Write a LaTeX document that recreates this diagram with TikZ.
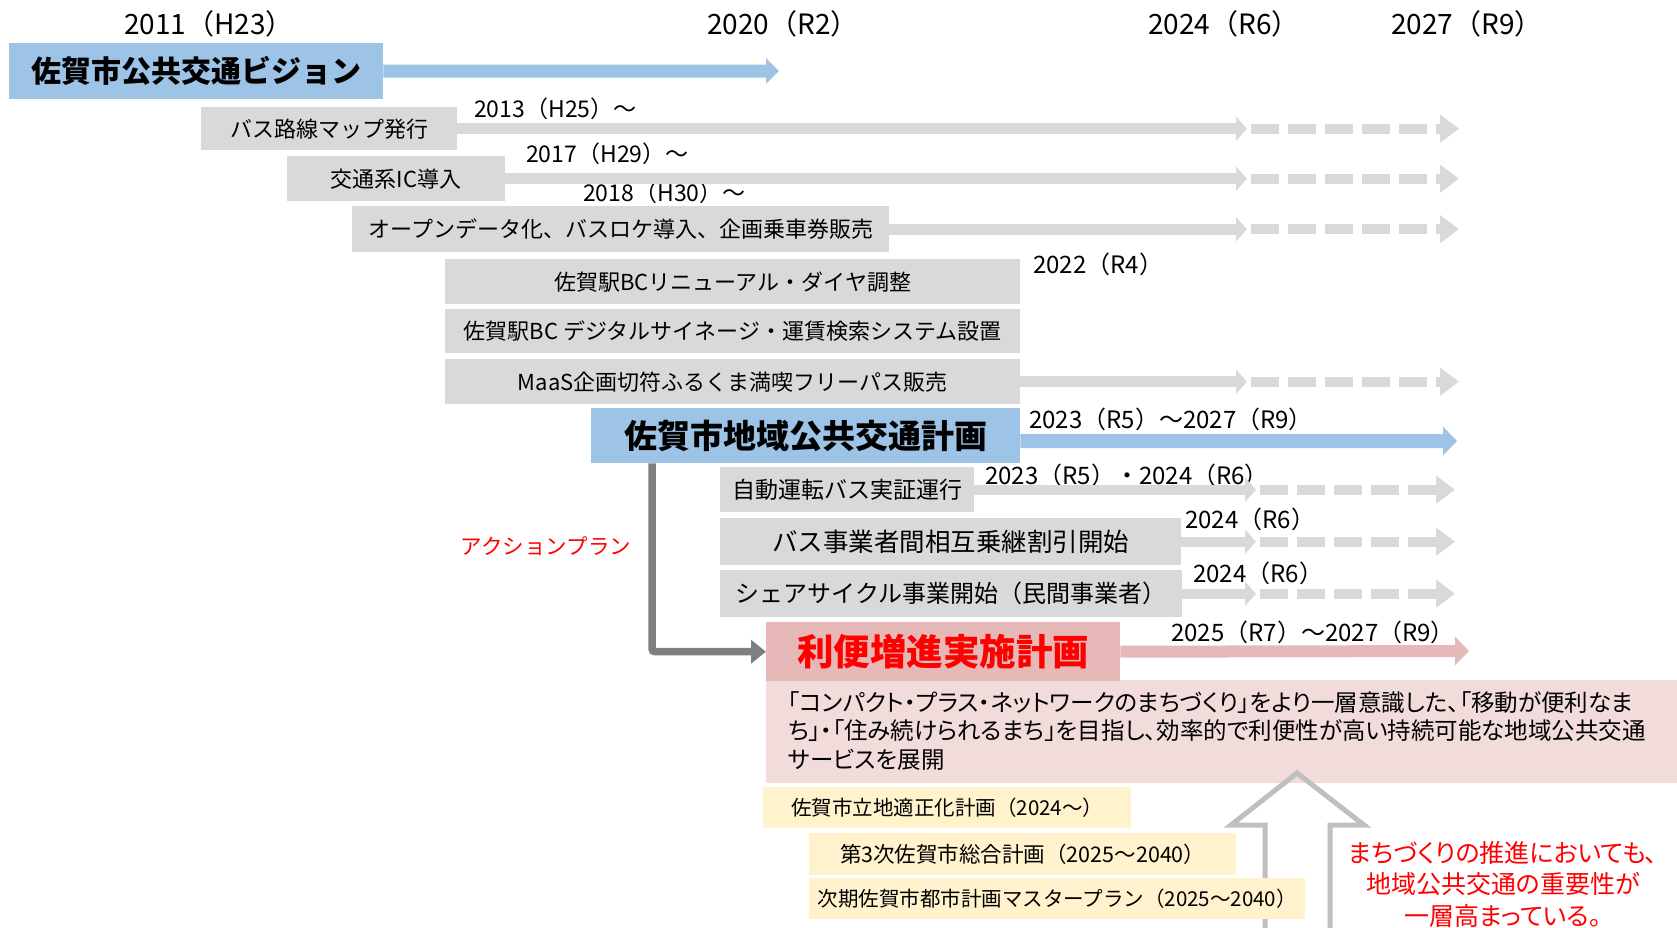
\documentclass[tikz,border=0pt]{standalone}
\usepackage{fontspec}
\setmainfont{Noto Sans CJK JP}
\newfontfamily\jpp[RawFeature=+palt]{Noto Sans CJK JP}
\usetikzlibrary{arrows.meta}
\definecolor{cblue}{HTML}{9DC3E6}
\definecolor{cgray}{HTML}{D9D9D9}
\definecolor{cpink}{HTML}{E6B9B8}
\definecolor{clpink}{HTML}{F2DCDB}
\definecolor{cyel}{HTML}{FFF2CC}
\definecolor{cdark}{HTML}{7F7F7F}
\definecolor{coutl}{HTML}{BFBFBF}
\definecolor{cred}{HTML}{FF0000}
\newcommand\jfs[2]{\fontsize{#1pt}{#2pt}\selectfont}
\begin{document}
\begin{tikzpicture}[x=1pt,y=-1pt,
  box/.style={inner sep=0pt, anchor=north west, align=center},
  gbox/.style={box, fill=cgray, font={\jfs{22}{26}}},
  ybox/.style={box, fill=cyel, font={\jfs{20.5}{24}}},
  yr/.style={inner sep=0pt, font={\jfs{28}{30}}},
  lbl/.style={inner sep=0pt, anchor=west, font={\jfs{24}{28}}},
  garrow/.style={cgray, line width=11pt, -{Triangle[length=11pt,width=24pt]}},
  gdash/.style={cgray, line width=10pt, dash pattern=on 28pt off 9pt, -{Triangle[length=19pt,width=27pt]}},
  barrow/.style={cblue, line width=13pt, -{Triangle[length=13pt,width=25pt]}},
  parrow/.style={cpink, line width=12pt, -{Triangle[length=14pt,width=28pt]}}
]
\useasboundingbox (0,0) rectangle (1677,927);

% header years
\node[yr] (h2011) at (209,24) {2011（H23）};
\node[yr] (h2020) at (783,24) {2020（R2）};
\node[yr] (h2024) at (1224,24) {2024（R6）};
\node[yr] (h2027) at (1467,24) {2027（R9）};

% vision
\node[box, fill=cblue, minimum width=374pt, minimum height=56pt, font={\jfs{30}{36}\bfseries}] (vis) at (9,43) {佐賀市公共交通ビジョン};
\coordinate (vt) at (779,71);
\draw[barrow] (vis.east) -- (vt);

% column coordinates for arrow tips
\coordinate (xa) at (1247,0);
\coordinate (xb) at (1459,0);
\coordinate (xc) at (1256,0);
\coordinate (xd) at (1455,0);

% gray boxes
\node[gbox, minimum width=256pt, minimum height=43pt] (b1) at (201,107) {バス路線マップ発行};
\node[gbox, minimum width=218pt, minimum height=45pt] (b2) at (287,156) {交通系IC導入};
\node[gbox, minimum width=537pt, minimum height=46pt] (b3) at (352,206) {オープンデータ化、バスロケ導入、企画乗車券販売};
\node[gbox, minimum width=575pt, minimum height=45pt] (b4) at (445,259) {佐賀駅BCリニューアル・ダイヤ調整};
\node[gbox, minimum width=575pt, minimum height=44pt] (b5) at (445,309) {佐賀駅BC デジタルサイネージ・運賃検索システム設置};
\node[gbox, minimum width=575pt, minimum height=45pt] (b6) at (445,359) {MaaS企画切符ふるくま満喫フリーパス販売};

\node[lbl, font={\jfs{23}{27}}] (l2013) at (474,109) {2013（H25）～};
\node[lbl, font={\jfs{23}{27}}] (l2017) at (526,154) {2017（H29）～};
\node[lbl, font={\jfs{23}{27}}] (l2018) at (583,193) {2018（H30）～};
\node[lbl] (l2022) at (1033,264) {2022（R4）};

\foreach \b in {b1,b2,b3,b6}{
  \draw[garrow] (\b.east) -- (\b.east -| xa);
  \draw[gdash] ([xshift=4pt]\b.east -| xa) -- (\b.east -| xb);
}

% plan
\node[box, fill=cblue, minimum width=429pt, minimum height=55pt, font={\jfs{33}{40}\bfseries}] (plan) at (591,408) {佐賀市地域公共交通計画};
\coordinate (pt) at (1457,441);
\draw[barrow, line width=14pt, -{Triangle[length=14pt,width=28pt]}] ([yshift=-5.5pt]plan.east) -- (pt);
\node[lbl] (l2023a) at (1029,419) {2023（R5）～2027（R9）};

% action plan boxes
\node[gbox, minimum width=254pt, minimum height=45pt, font={\jfs{23}{26}}] (b7) at (720,467) {自動運転バス実証運行};
\node[gbox, minimum width=461pt, minimum height=47pt, font={\jfs{25.5}{30}}] (b8) at (720,518) {バス事業者間相互乗継割引開始};
\node[gbox, minimum width=462pt, minimum height=47pt, font={\jfs{24}{28}}] (b9) at (720,570) {シェアサイクル事業開始（民間事業者）};

\node[lbl] (l2023b) at (985,475) {2023（R5）・2024（R6）};
\node[lbl] (l2024a) at (1185,519) {2024（R6）};
\node[lbl] (l2024b) at (1193,573) {2024（R6）};

\foreach \b in {b7,b8,b9}{
  \draw[garrow, line width=10pt] (\b.east) -- (\b.east -| xc);
  \draw[gdash] ([xshift=4pt]\b.east -| xc) -- (\b.east -| xd);
}

% benefit plan
\node[box, fill=clpink, minimum width=911pt, minimum height=103pt] (desc) at (766,680) {};
\node[inner sep=0pt, anchor=west, align=left, font={\jpp\jfs{23.5}{28.5}}] (desct) at (788,731) {「コンパクト・プラス・ネットワークのまちづくり」をより一層意識した、「移動が便利なま\\ち」・「住み続けられるまち」を目指し、効率的で利便性が高い持続可能な地域公共交通\\サービスを展開};
\node[box, fill=cpink, minimum width=354pt, minimum height=59pt, text=cred, font={\jfs{36.5}{42}\bfseries}] (rb) at (766,622) {利便増進実施計画};
\coordinate (rt) at (1469,651);
\draw[parrow] (rb.east) -- (rt);
\node[lbl] (l2025) at (1171,632) {2025（R7）～2027（R9）};

% elbow connector
\coordinate (ex) at (652,0);
\draw[cdark, line width=7.5pt, rounded corners=3pt, -{Triangle[length=15pt,width=23pt]}] (plan.south -| ex) |- (rb.west);
\node[inner sep=0pt, text=cred, font={\jfs{21.5}{26}}] (ap) at (546,546) {アクションプラン};

% hollow up arrow
\draw[coutl, line width=5pt, line join=miter] (1297,773) -- (1364,825) -- (1330,825) -- (1330,940) -- (1265,940) -- (1265,825) -- (1231,825) -- cycle;

% yellow boxes
\node[ybox, minimum width=368pt, minimum height=41pt] (y1) at (763,787) {佐賀市立地適正化計画（2024～）};
\node[ybox, minimum width=427pt, minimum height=42pt, font={\jfs{21.5}{24}}] (y2) at (809,833) {第3次佐賀市総合計画（2025～2040）};
\node[ybox, minimum width=496pt, minimum height=41pt] (y3) at (809,878) {次期佐賀市都市計画マスタープラン（2025～2040）};

% note
\node[inner sep=0pt, align=center, text=cred, font={\jpp\jfs{25}{31.5}}] (note) at (1503,884) {まちづくりの推進においても、\\地域公共交通の重要性が\\一層高まっている。};
\end{tikzpicture}
\end{document}
